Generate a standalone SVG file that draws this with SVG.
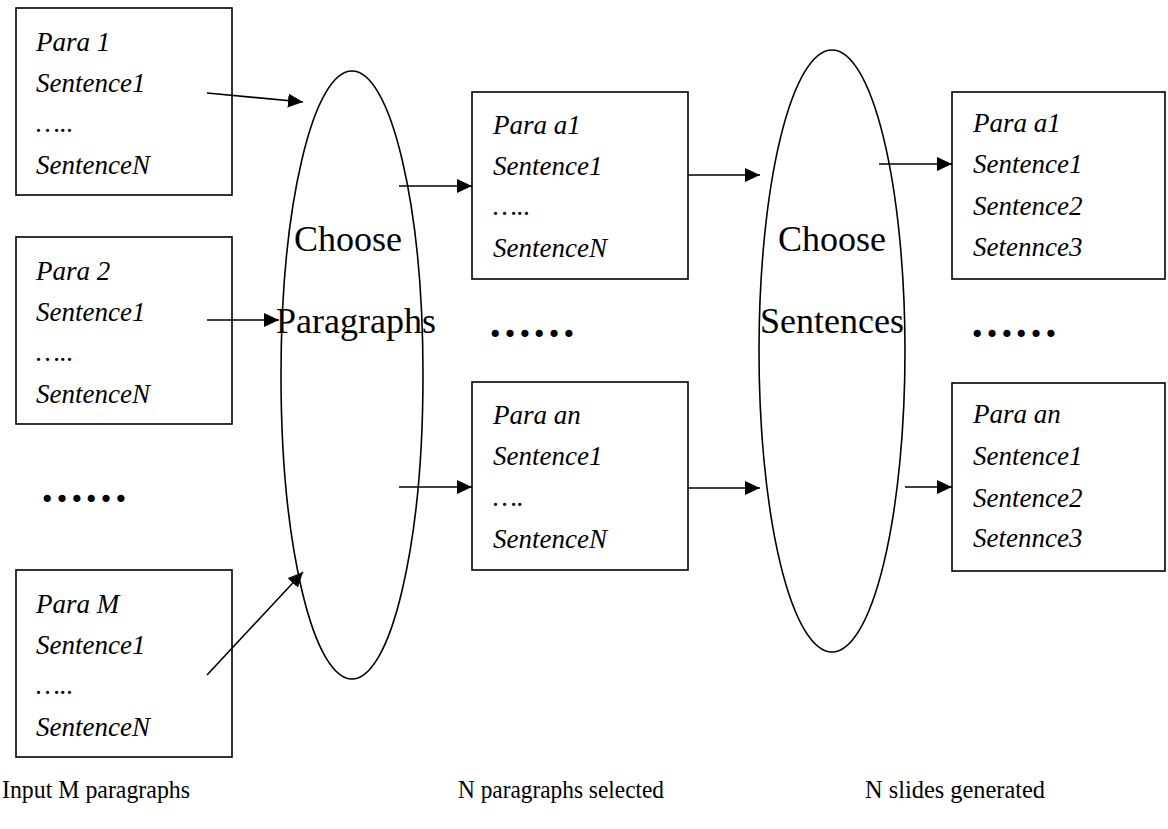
<svg xmlns="http://www.w3.org/2000/svg" width="1168" height="829" viewBox="0 0 1168 829">
<style>
.box{fill:#fff;stroke:#000;stroke-width:1.6}
.ell{fill:none;stroke:#000;stroke-width:1.6}
text{font-family:"Liberation Serif","Times New Roman",Times,"DejaVu Serif",serif;fill:#000}
.it{font-style:italic;font-size:27px}
.big{font-size:36px}
.lbl{font-size:26px}
.dots{font-weight:bold;font-size:44px}
.con{stroke:#000;stroke-width:1.6;fill:none;marker-end:url(#ah)}
</style>
<defs>
<marker id="ah" markerUnits="userSpaceOnUse" markerWidth="16" markerHeight="14" refX="15" refY="7" orient="auto">
<path d="M0,0 L15,7 L0,14 z" fill="#000"/>
</marker>
</defs>
<rect width="1168" height="829" fill="#fff"/>
<g id="para1">
<rect class="box" x="16" y="8" width="216" height="187"/>
<text class="it" x="36" y="51">Para 1</text>
<text class="it" x="36" y="92">Sentence1</text>
<text class="it" x="36" y="132">…..</text>
<text class="it" x="36" y="174">SentenceN</text>
</g>
<g id="para2">
<rect class="box" x="16" y="237" width="216" height="187"/>
<text class="it" x="36" y="280">Para 2</text>
<text class="it" x="36" y="321">Sentence1</text>
<text class="it" x="36" y="361">…..</text>
<text class="it" x="36" y="403">SentenceN</text>
</g>
<g id="paraM">
<rect class="box" x="16" y="570" width="216" height="187"/>
<text class="it" x="36" y="613">Para M</text>
<text class="it" x="36" y="654">Sentence1</text>
<text class="it" x="36" y="694">…..</text>
<text class="it" x="36" y="736">SentenceN</text>
</g>
<g id="dotsLeft"><text class="dots" x="40" y="502">……</text></g>
<g id="chooseParagraphs">
<ellipse class="ell" cx="352" cy="375" rx="71" ry="304"/>
<text class="big" x="348" y="251" text-anchor="middle">Choose</text>
<text class="big" x="356" y="333" text-anchor="middle">Paragraphs</text>
</g>
<g id="paraA1">
<rect class="box" x="472" y="92" width="216" height="187"/>
<text class="it" x="493" y="134">Para a1</text>
<text class="it" x="493" y="175">Sentence1</text>
<text class="it" x="493" y="215">…..</text>
<text class="it" x="493" y="257">SentenceN</text>
</g>
<g id="dotsMid"><text class="dots" x="488" y="337">……</text></g>
<g id="paraAn">
<rect class="box" x="472" y="382" width="216" height="188"/>
<text class="it" x="493" y="424">Para an</text>
<text class="it" x="493" y="465">Sentence1</text>
<text class="it" x="493" y="506">….</text>
<text class="it" x="493" y="548">SentenceN</text>
</g>
<g id="chooseSentences">
<ellipse class="ell" cx="832" cy="351" rx="73" ry="301"/>
<text class="big" x="832" y="251" text-anchor="middle">Choose</text>
<text class="big" x="832" y="333" text-anchor="middle">Sentences</text>
</g>
<g id="slideA1">
<rect class="box" x="952" y="92" width="213" height="187"/>
<text class="it" x="973" y="132">Para a1</text>
<text class="it" x="973" y="173">Sentence1</text>
<text class="it" x="973" y="215">Sentence2</text>
<text class="it" x="973" y="256">Setennce3</text>
</g>
<g id="dotsRight"><text class="dots" x="970" y="337">……</text></g>
<g id="slideAn">
<rect class="box" x="952" y="383" width="213" height="188"/>
<text class="it" x="973" y="423">Para an</text>
<text class="it" x="973" y="465">Sentence1</text>
<text class="it" x="973" y="507">Sentence2</text>
<text class="it" x="973" y="547">Setennce3</text>
</g>
<g id="labels">
<text class="lbl" x="2" y="798" textLength="188" lengthAdjust="spacingAndGlyphs">Input M paragraphs</text>
<text class="lbl" x="458" y="798" textLength="206" lengthAdjust="spacingAndGlyphs">N paragraphs selected</text>
<text class="lbl" x="865" y="798" textLength="180" lengthAdjust="spacingAndGlyphs">N slides generated</text>
</g>
<g id="connectors">
<line class="con" x1="207" y1="93" x2="303" y2="102"/>
<line class="con" x1="207" y1="320" x2="279" y2="320"/>
<line class="con" x1="207" y1="675" x2="303" y2="572"/>
<line class="con" x1="399" y1="186" x2="472" y2="186"/>
<line class="con" x1="399" y1="487" x2="472" y2="487"/>
<line class="con" x1="688" y1="175" x2="760" y2="175"/>
<line class="con" x1="688" y1="488" x2="760" y2="488"/>
<line class="con" x1="879" y1="164" x2="952" y2="164"/>
<line class="con" x1="905" y1="487" x2="952" y2="487"/>
</g>
</svg>
